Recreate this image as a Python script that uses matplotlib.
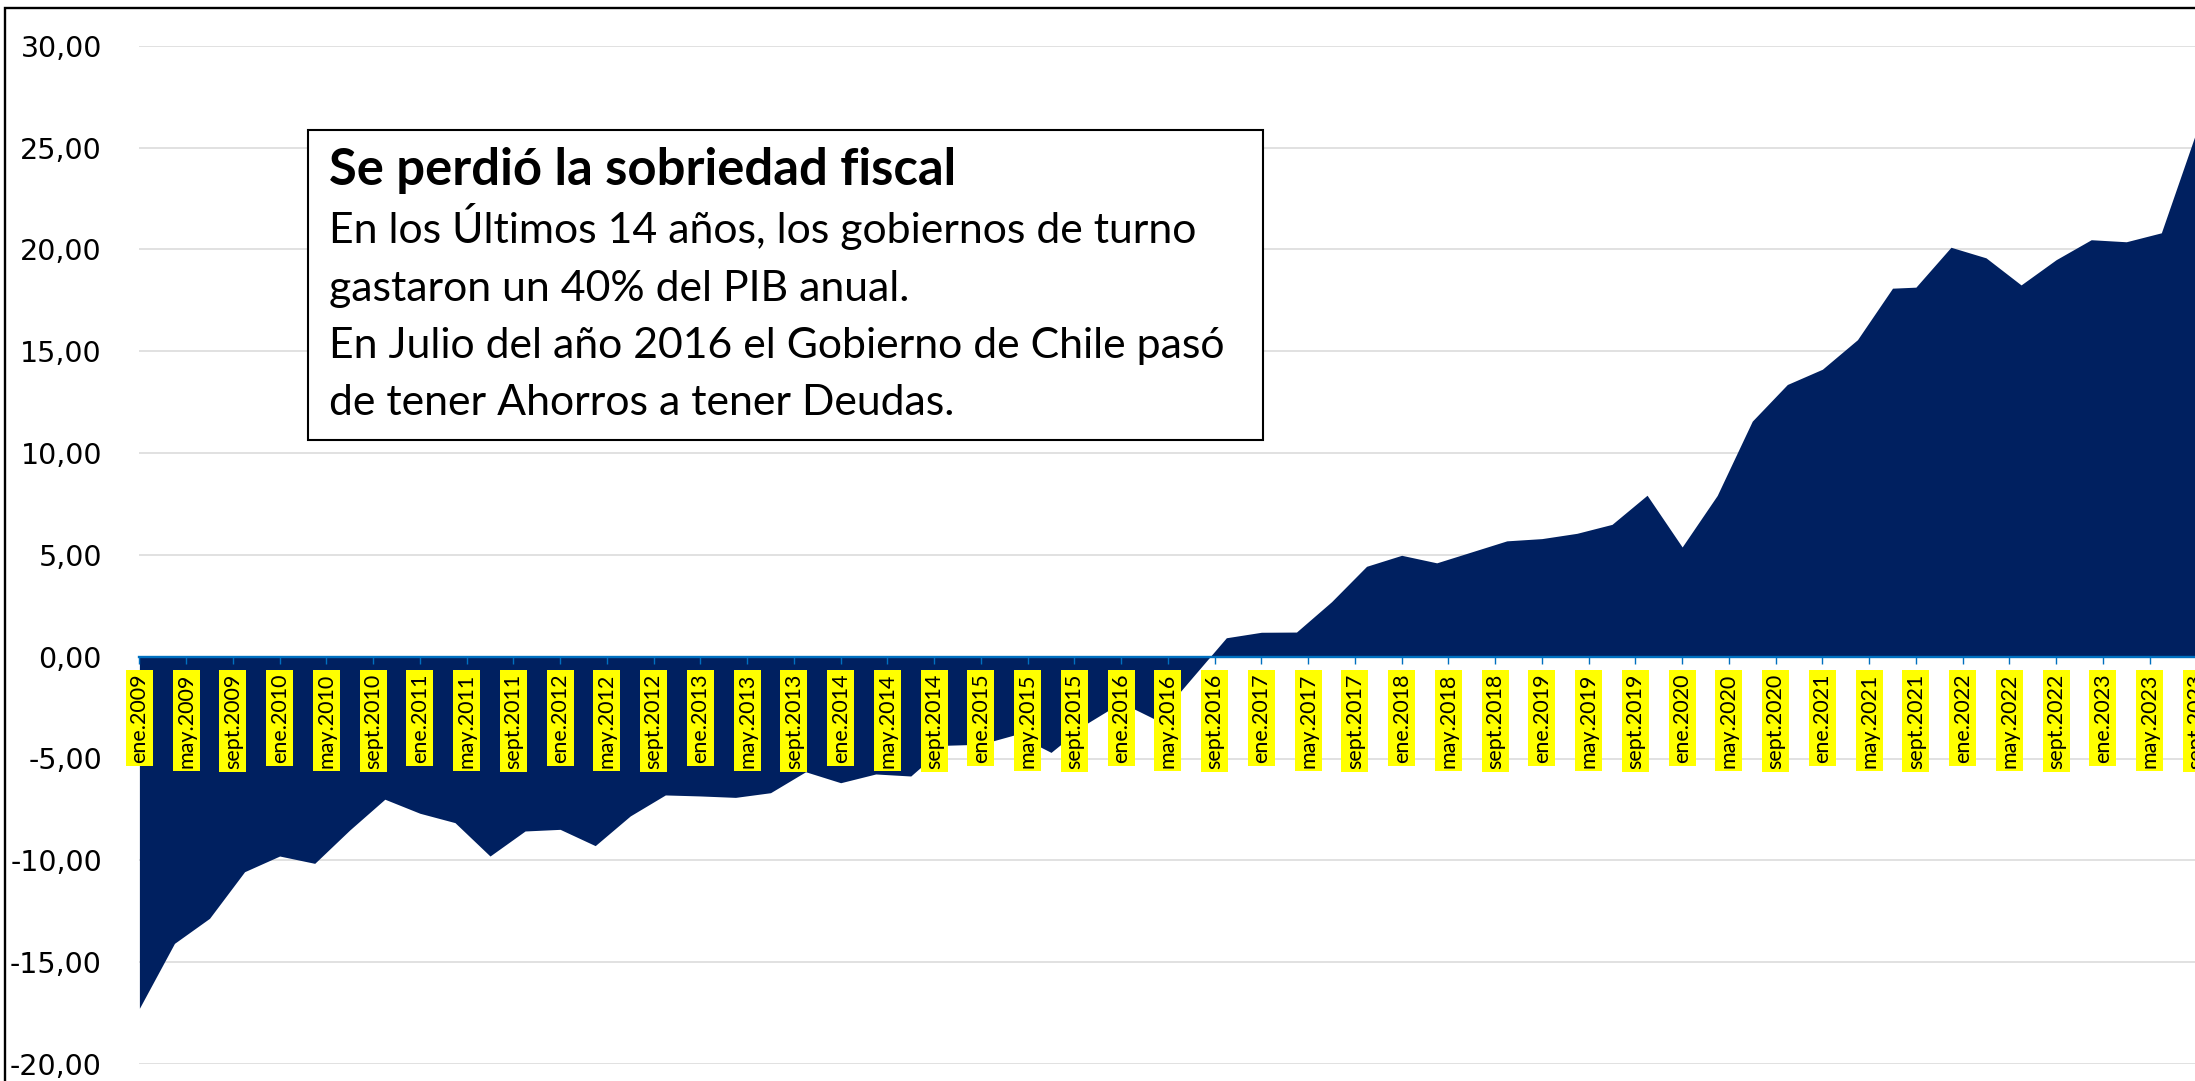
import matplotlib
matplotlib.use("Agg")
import matplotlib.pyplot as plt
from matplotlib.patches import Rectangle

W, H = 2195, 1081

# deuda neta del gobierno central (% PIB), datos trimestrales
fechas = ["2009-01", "2009-04", "2009-07", "2009-10", "2010-01", "2010-04", "2010-07", "2010-10",
          "2011-01", "2011-04", "2011-07", "2011-10", "2012-01", "2012-04", "2012-07", "2012-10",
          "2013-01", "2013-04", "2013-07", "2013-10", "2014-01", "2014-04", "2014-07", "2014-10",
          "2015-01", "2015-04", "2015-07", "2015-10", "2016-01", "2016-04", "2016-07", "2016-10",
          "2017-01", "2017-04", "2017-07", "2017-10", "2018-01", "2018-04", "2018-07", "2018-10",
          "2019-01", "2019-04", "2019-07", "2019-10", "2020-01", "2020-04", "2020-07", "2020-10",
          "2021-01", "2021-04", "2021-07", "2021-09", "2021-12", "2022-03", "2022-06", "2022-09",
          "2022-12", "2023-03", "2023-06", "2023-09"]
deudaNeta = [-17.27, -14.08, -12.85, -10.56, -9.79, -10.15, -8.51, -7.00,
             -7.69, -8.15, -9.79, -8.56, -8.48, -9.28, -7.82, -6.79,
             -6.84, -6.91, -6.68, -5.65, -6.19, -5.76, -5.86, -4.35,
             -4.30, -3.82, -4.70, -3.30, -2.25, -3.10, -1.08, 0.93,
             1.20, 1.21, 2.70, 4.44, 4.98, 4.61, 5.15, 5.69,
             5.80, 6.06, 6.50, 7.93, 5.39, 7.92, 11.57, 13.37,
             14.12, 15.57, 18.10, 18.15, 20.11, 19.59, 18.26, 19.50,
             20.48, 20.38, 20.82, 25.79]

tickLabels = ["ene.2009", "may.2009", "sept.2009", "ene.2010", "may.2010", "sept.2010",
              "ene.2011", "may.2011", "sept.2011", "ene.2012", "may.2012", "sept.2012",
              "ene.2013", "may.2013", "sept.2013", "ene.2014", "may.2014", "sept.2014",
              "ene.2015", "may.2015", "sept.2015", "ene.2016", "may.2016", "sept.2016",
              "ene.2017", "may.2017", "sept.2017", "ene.2018", "may.2018", "sept.2018",
              "ene.2019", "may.2019", "sept.2019", "ene.2020", "may.2020", "sept.2020",
              "ene.2021", "may.2021", "sept.2021", "ene.2022", "may.2022", "sept.2022",
              "ene.2023", "may.2023", "sept.2023"]
yTicks = [-20, -15, -10, -5, 0, 5, 10, 15, 20, 25, 30]

titulo = "Se perdió la sobriedad fiscal"
lineasTexto = ["En los Últimos 14 años, los gobiernos de turno",
               "gastaron un 40% del PIB anual.",
               "En Julio del año 2016 el Gobierno de Chile pasó",
               "de tener Ahorros a tener Deudas."]

# meses desde ene.2009 (eje de fechas con unidad mensual, como en Excel)
meses = [(int(f[:4]) - 2009) * 12 + int(f[5:]) - 1 for f in fechas]
tickMeses = list(range(0, 4 * len(tickLabels), 4))

fig = plt.figure(figsize=(W / 100, H / 100), dpi=100)
ax = fig.add_axes([139.4 / W, 17.1 / H, (2196.4 - 139.4) / W, (1063.9 - 45.9) / H])

ax.fill_between(meses, deudaNeta, 0, color="#002060", linewidth=0, zorder=1)
ax.set_xlim(0, 176)
ax.set_ylim(-20, 30)

for side in ["top", "right", "left"]:
    ax.spines[side].set_visible(False)
ax.spines["bottom"].set_position(("data", 0))
ax.spines["bottom"].set_color("#0070C0")
ax.spines["bottom"].set_linewidth(1.7)
ax.spines["bottom"].set_zorder(3)

ax.set_yticks(yTicks)
ax.set_yticklabels([f"{v:.2f}".replace(".", ",") for v in yTicks], fontsize=20.5, family="DejaVu Sans")
ax.tick_params(axis="y", length=0, pad=27)
ax.yaxis.grid(True, color="#D9D9D9", linewidth=1.1)
ax.set_axisbelow(True)

ax.set_xticks(tickMeses)
ax.set_xticklabels(tickLabels, rotation=90, fontsize=15.5, family="Lato")
ax.tick_params(axis="x", direction="out", length=5, width=1, color="#0070C0", pad=7)
for lbl in ax.get_xticklabels():
    lbl.set_bbox(dict(facecolor="#FFFF00", edgecolor="none", pad=2.5))
ax.xaxis.set_zorder(3)

# borde del área del gráfico (recortado a la derecha y abajo)
fig.add_artist(Rectangle((5 / W, -0.1), 2, 1 - 8 / H + 0.1, transform=fig.transFigure,
                         fill=False, edgecolor="black", linewidth=1.7, clip_on=False))

# cuadro de texto
fig.add_artist(Rectangle((308 / W, 1 - 440 / H), (1263 - 308) / W, (440 - 130) / H,
                         transform=fig.transFigure, facecolor="white", edgecolor="black",
                         linewidth=1.5, zorder=5))
fig.text(329 / W, 1 - 185 / H, titulo, fontsize=36.5, fontweight="bold", family="Lato",
         va="baseline", zorder=6)
for i, linea in enumerate(lineasTexto):
    fig.text(329 / W, 1 - (243.3 + 57.3 * i) / H, linea, fontsize=30.8,
             family="Lato", va="baseline", zorder=6)

plt.savefig("out.png", dpi=100)
